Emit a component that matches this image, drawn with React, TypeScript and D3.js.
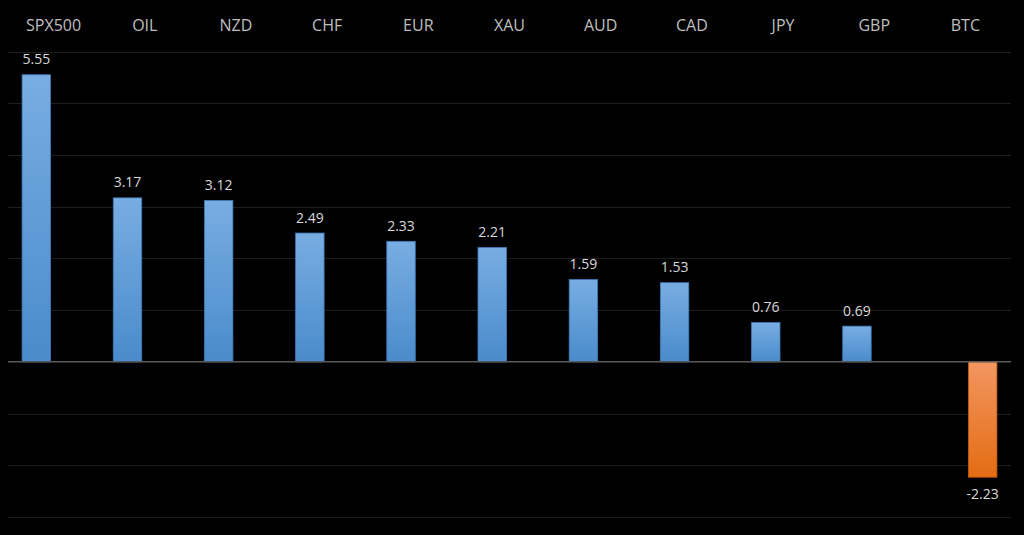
import React from "react";
import * as d3 from "d3";

const categories = ["SPX500", "OIL", "NZD", "CHF", "EUR", "XAU", "AUD", "CAD", "JPY", "GBP", "BTC"];
const values = [5.55, 3.17, 3.12, 2.49, 2.33, 2.21, 1.59, 1.53, 0.76, 0.69, -2.23];
const yTicks = [-3, -2, -1, 0, 1, 2, 3, 4, 5, 6];

const W = 1024;
const H = 535;

export default function App() {
  const x = d3.scaleBand<string>().domain(categories).range([8, 1011]).padding(0);
  const bw = x.bandwidth();
  const x1 = d3
    .scaleBand<string>()
    .domain(["pos", "neg"])
    .range([bw / 2 - 31.5, bw / 2 + 31.5])
    .paddingInner(0.177)
    .paddingOuter(0);
  const y = d3.scaleLinear().domain([-3, 6]).range([517, 51.5]);
  const font = "'Open Sans', 'DejaVu Sans', sans-serif";

  return (
    <svg
      width={W}
      height={H}
      style={{ position: "fixed", left: 0, top: 0, background: "#000", display: "block" }}
    >
      <defs>
        <linearGradient id="gBlue" x1="0" y1="0" x2="0" y2="1">
          <stop offset="0%" stopColor="#78ade2" />
          <stop offset="100%" stopColor="#4a8bcb" />
        </linearGradient>
        <linearGradient id="gOrange" x1="0" y1="0" x2="0" y2="1">
          <stop offset="0%" stopColor="#f29660" />
          <stop offset="100%" stopColor="#e46c14" />
        </linearGradient>
      </defs>
      <rect x={0} y={0} width={W} height={H} fill="#000" />
      {yTicks
        .filter((t) => t !== 0)
        .map((t) => (
          <line
            key={t}
            x1={8}
            x2={1011}
            y1={Math.round(y(t)) + 0.5}
            y2={Math.round(y(t)) + 0.5}
            stroke="#1e1e1e"
            strokeWidth={1}
          />
        ))}
      {categories.map((c) => (
        <text
          key={c}
          x={(x(c) as number) + bw / 2}
          y={31}
          textAnchor="middle"
          fill="#bfbfbf"
          fontSize={16}
          fontFamily={font}
        >
          {c}
        </text>
      ))}
      {categories.map((c, i) => {
        const v = values[i];
        const pos = v >= 0;
        const bx = (x(c) as number) + (x1(pos ? "pos" : "neg") as number);
        const w = x1.bandwidth();
        const y0 = y(0);
        const yv = y(v);
        const top = Math.min(y0, yv);
        const h = Math.abs(yv - y0);
        return (
          <g key={c}>
            <rect
              x={bx}
              y={top}
              width={w}
              height={h}
              fill={pos ? "url(#gBlue)" : "url(#gOrange)"}
              stroke={pos ? "#3f7cbc" : "#c85e12"}
              strokeWidth={0.8}
            />
            <text
              x={bx + w / 2}
              y={pos ? yv - 10.5 : yv + 22}
              textAnchor="middle"
              fill="#d9d9d9"
              fontSize={14}
              fontFamily={font}
            >
              {v.toFixed(2)}
            </text>
          </g>
        );
      })}
      <line x1={8} x2={1011} y1={y(0)} y2={y(0)} stroke="#5a5a5a" strokeWidth={1.5} />
    </svg>
  );
}
